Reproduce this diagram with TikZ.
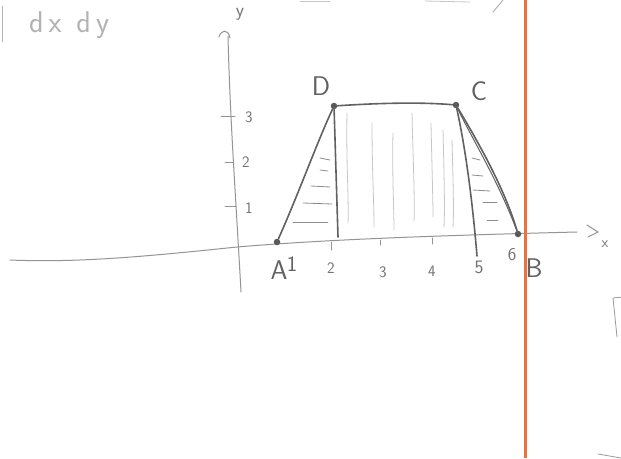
\documentclass[tikz,border=0pt]{standalone}
\definecolor{redline}{RGB}{238,112,62}
\begin{document}
\begin{tikzpicture}[x=1pt,y=-1pt,
  pencil/.style={draw=black!62, line width=1.6pt, line cap=round, line join=round},
  axisline/.style={draw=black!42, line width=1pt, line cap=round},
  hatch/.style={draw=black!45, line width=0.8pt, line cap=round},
  faint/.style={draw=black!22, line width=0.8pt, line cap=round},
  lab/.style={text=black!62, font=\sffamily\fontsize{27}{27}\selectfont, inner sep=0pt},
  num/.style={text=black!55, font=\sffamily\fontsize{16}{16}\selectfont, inner sep=0pt},
  vdot/.style={circle, fill=black!65, inner sep=0pt, minimum size=6.5pt}]
\useasboundingbox (0,0) rectangle (621,458);
\fill[white] (0,0) rectangle (621,458);

% top-left fragment
\draw[faint, draw=black!30] (2,6) -- (2,42);
\node[text=black!30, font=\sffamily\fontsize{30}{30}\selectfont, inner sep=0pt] (dxdy) at (69,25) {d\,x\hspace{0.5em}d\,y};
% top cut-off fragments
\draw[faint] (300,1) -- (330,1);
\draw[faint] (425,1) -- (470,2);
\draw[faint, draw=black!35] (503,0) -- (493,12);

% axes
\coordinate (xs) at (10,260);
\coordinate (xe) at (577,232);
\draw[axisline] (xs) .. controls (80,263) and (150,256) .. (237,247)
  .. controls (320,240) and (420,236) .. (xe);
\draw[axisline] (587,225) -- (598,232) -- (588,237);
\node[num, font=\sffamily\fontsize{15}{15}\selectfont] (xl) at (605,244) {x};

\coordinate (ys) at (228,36);
\coordinate (ye) at (241,292);
\draw[axisline] (ys) .. controls (230,120) and (236,200) .. (ye);
\draw[axisline] (219,37) .. controls (221,30) and (228,28) .. (230,38);
\node[num, font=\sffamily\fontsize{19}{19}\selectfont] (yl) at (240,14) {y};

% y ticks
\draw[axisline] (221,116) -- (235,116);
\draw[axisline] (225,162) -- (233,162);
\draw[axisline] (225,206) -- (236,206);
\node[num] (y3) at (249,117) {3};
\node[num] (y2) at (246,162) {2};
\node[num] (y1) at (249,208) {1};

% x ticks
\draw[axisline] (331,242) -- (331,250);
\draw[axisline] (380,240) -- (380,245);
\draw[axisline] (432,238) -- (432,244);

% trapezoid vertices
\node[vdot] (A) at (277,242) {};
\node[vdot] (D) at (334,106) {};
\node[vdot] (C) at (456,105) {};
\node[vdot] (B) at (518,234) {};

% hatching (middle, vertical)
\draw[faint] (347,113) .. controls (346,160) and (349,200) .. (348,223);
\draw[faint] (372,123) .. controls (372,170) and (374,200) .. (374,227);
\draw[faint] (393,133) .. controls (392,170) and (394,210) .. (394,230);
\draw[faint] (412,113) .. controls (413,160) and (415,200) .. (414,221);
\draw[faint] (431,123) .. controls (432,170) and (433,200) .. (433,217);
\draw[faint] (443,130) .. controls (444,170) and (445,210) .. (444,227);
\draw[faint] (452,140) .. controls (453,180) and (454,210) .. (453,227);

% hatching (left, horizontal)
\draw[hatch] (320,158) -- (330,160);
\draw[hatch] (320,170) -- (328,171);
\draw[hatch] (311,186) -- (330,187);
\draw[hatch] (303,203) -- (332,204);
\draw[hatch] (293,222) -- (328,222);
% hatching (right, horizontal)
\draw[hatch] (472,158) -- (480,160);
\draw[hatch] (472,175) -- (483,176);
\draw[hatch] (473,190) -- (490,191);
\draw[hatch] (483,202) -- (497,202);
\draw[hatch] (487,220) -- (498,220);

% edges
\draw[pencil] (A) .. controls (298,195) and (318,140) .. (D);
\draw[pencil] (D) .. controls (380,103) and (420,102) .. (C);
\draw[pencil] (C) .. controls (480,145) and (505,190) .. (B);
\draw[pencil, line width=1pt] (C) .. controls (470,135) and (498,180) .. (B);
\coordinate (Dfoot) at (338,237);
\coordinate (Cfoot) at (477,256);
\draw[pencil] (D) -- (Dfoot);
\draw[pencil] (C) .. controls (468,160) and (474,220) .. (Cfoot);

% vertex labels
\node[lab] (Dl) at (321,86) {D};
\node[lab] (Cl) at (479,91) {C};
\node[lab] (Al) at (279,270) {A};
\node[lab, font=\sffamily\fontsize{22}{22}\selectfont] (A1) at (292,264) {1};
\node[lab] (Bl) at (534,268) {B};

% x numbers
\node[num] (x2) at (331,268) {2};
\node[num] (x3) at (383,272) {3};
\node[num] (x4) at (432,271) {4};
\node[num, font=\sffamily\fontsize{19}{19}\selectfont] (x5) at (479,267) {5};
\node[num, font=\sffamily\fontsize{18}{18}\selectfont] (x6) at (512,255) {6};

% right-side fragments
\draw[faint, draw=black!40] (623,297) -- (613,298) -- (617,337);
\draw[faint, draw=black!40] (598,454) -- (621,458);

% orange margin line
\draw[draw=redline, line width=3pt] (525,0) -- (525,458);
\end{tikzpicture}
\end{document}
